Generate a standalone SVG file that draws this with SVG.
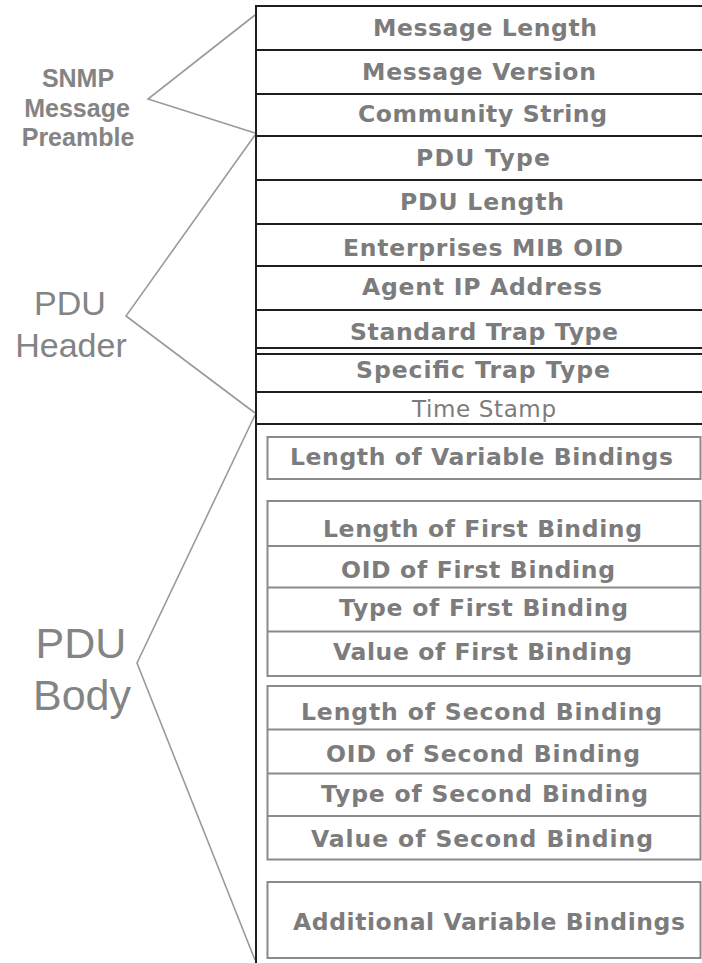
<svg xmlns="http://www.w3.org/2000/svg" width="702" height="963" viewBox="0 0 702 963">
<style>
.bg{fill:#ffffff}
.row{stroke:#1e1e1e;stroke-width:2;fill:none}
.box{stroke:#8a8a8a;stroke-width:2;fill:none}
.brk{stroke:#9a9a9a;stroke-width:1.6;fill:none;stroke-linejoin:miter}
.lb{font-family:"DejaVu Sans",Verdana,sans-serif;font-weight:bold;font-size:23.5px;fill:#7c7c7c}
.lr{font-family:"DejaVu Sans",Verdana,sans-serif;font-size:23px;fill:#7c7c7c}
.side{font-family:"Liberation Sans",Arial,sans-serif;fill:#848484;text-anchor:middle}
</style>
<rect class="bg" x="0" y="0" width="702" height="963"/>

<g id="connectors">
  <polyline class="brk" points="255,15 148,99 255,133"/>
  <polyline class="brk" points="255,135 126,316 255,413"/>
  <polyline class="brk" points="255,415 137,663 255,960"/>
</g>

<g id="frame">
  <line class="row" x1="256" y1="5" x2="256" y2="963"/>
  <line class="row" x1="255" y1="6" x2="702" y2="6"/>
</g>

<g id="label-preamble">
  <text class="side" font-weight="bold" font-size="25" x="78" y="87">SNMP</text>
  <text class="side" font-weight="bold" font-size="25" x="77" y="117">Message</text>
  <text class="side" font-weight="bold" font-size="25" x="78" y="146">Preamble</text>
</g>
<g id="label-header">
  <text class="side" font-size="34" x="70" y="315">PDU</text>
  <text class="side" font-size="34" x="71" y="357">Header</text>
</g>
<g id="label-body">
  <text class="side" font-size="43" x="81" y="658">PDU</text>
  <text class="side" font-size="43" x="82" y="710">Body</text>
</g>

<g id="message-length"><line class="row" x1="255" y1="50" x2="702" y2="50"/><text class="lb" x="373" y="36" textLength="224">Message Length</text></g>
<g id="message-version"><line class="row" x1="255" y1="94" x2="702" y2="94"/><text class="lb" x="362" y="80" textLength="234">Message Version</text></g>
<g id="community-string"><line class="row" x1="255" y1="136" x2="702" y2="136"/><text class="lb" x="358" y="122" textLength="249">Community String</text></g>
<g id="pdu-type"><line class="row" x1="255" y1="180" x2="702" y2="180"/><text class="lb" x="416" y="166" textLength="134">PDU Type</text></g>
<g id="pdu-length"><line class="row" x1="255" y1="224" x2="702" y2="224"/><text class="lb" x="400" y="210" textLength="164">PDU Length</text></g>
<g id="enterprises-oid"><line class="row" x1="255" y1="266" x2="702" y2="266"/><text class="lb" x="343" y="256" textLength="280">Enterprises MIB OID</text></g>
<g id="agent-ip"><line class="row" x1="255" y1="310" x2="702" y2="310"/><text class="lb" x="362" y="295" textLength="240">Agent IP Address</text></g>
<g id="standard-trap"><line class="row" x1="255" y1="348" x2="702" y2="348"/><text class="lb" x="350" y="340" textLength="268">Standard Trap Type</text></g>
<g id="specific-trap"><line class="row" x1="255" y1="354" x2="702" y2="354"/><line class="row" x1="255" y1="392" x2="702" y2="392"/><text class="lb" x="356" y="378" textLength="254">Specific Trap Type</text></g>
<g id="time-stamp"><line class="row" x1="255" y1="424" x2="702" y2="424"/><text class="lr" x="412" y="417" textLength="144">Time Stamp</text></g>

<g id="length-variable-bindings">
  <rect class="box" x="267.5" y="437" width="433" height="42"/>
  <text class="lb" x="290" y="465" textLength="383">Length of Variable Bindings</text>
</g>

<g id="first-binding">
  <rect class="box" x="267.5" y="501" width="433" height="175"/>
  <line class="box" x1="267.5" y1="546" x2="700.5" y2="546"/>
  <line class="box" x1="267.5" y1="587.5" x2="700.5" y2="587.5"/>
  <line class="box" x1="267.5" y1="631.5" x2="700.5" y2="631.5"/>
  <text class="lb" x="323" y="537" textLength="319">Length of First Binding</text>
  <text class="lb" x="341" y="578" textLength="274">OID of First Binding</text>
  <text class="lb" x="339" y="616" textLength="289">Type of First Binding</text>
  <text class="lb" x="333" y="660" textLength="299">Value of First Binding</text>
</g>

<g id="second-binding">
  <rect class="box" x="267.5" y="686" width="433" height="173.5"/>
  <line class="box" x1="267.5" y1="729.5" x2="700.5" y2="729.5"/>
  <line class="box" x1="267.5" y1="773.5" x2="700.5" y2="773.5"/>
  <line class="box" x1="267.5" y1="816" x2="700.5" y2="816"/>
  <text class="lb" x="301" y="720" textLength="361">Length of Second Binding</text>
  <text class="lb" x="326" y="762" textLength="314">OID of Second Binding</text>
  <text class="lb" x="321" y="802" textLength="327">Type of Second Binding</text>
  <text class="lb" x="311" y="847" textLength="342">Value of Second Binding</text>
</g>

<g id="additional-bindings">
  <rect class="box" x="267.5" y="882" width="433" height="76"/>
  <text class="lb" x="293" y="930" textLength="392">Additional Variable Bindings</text>
</g>
</svg>
